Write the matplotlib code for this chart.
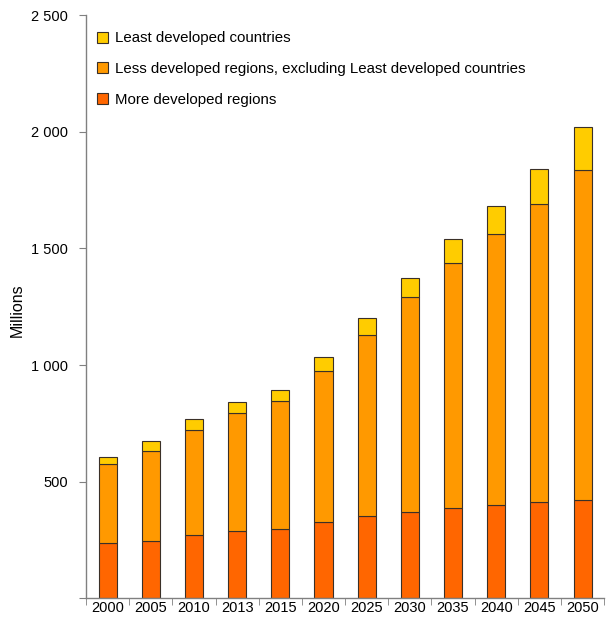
import matplotlib
matplotlib.use("Agg")
import matplotlib.pyplot as plt
import numpy as np
from matplotlib.ticker import FuncFormatter, FixedLocator

plt.rcParams['font.family'] = ['Liberation Sans', 'DejaVu Sans']

years = ["2000", "2005", "2010", "2013", "2015", "2020", "2025", "2030", "2035", "2040", "2045", "2050"]
more_developed = [235, 246, 272, 287, 299, 327, 351, 372, 389, 401, 412, 421]
less_excl_ldc = [340, 387, 450, 507, 546, 648, 778, 918, 1050, 1160, 1279, 1416]
least_developed = [32, 40, 45, 47, 48, 60, 72, 85, 103, 122, 151, 184]

series_names = ["More developed regions",
                "Less developed regions, excluding Least developed countries",
                "Least developed countries"]
colors = ["#FF6600", "#FF9900", "#FFCC00"]

fig = plt.figure(figsize=(6.11, 6.28), dpi=100)
ax = fig.add_axes([0.1408, 0.0473, 0.848, 0.9287])

x = np.arange(len(years))
w = 0.42
edge = "#3a3028"
b1 = ax.bar(x, more_developed, w, color=colors[0], edgecolor=edge, linewidth=0.8, label=series_names[0])
b2 = ax.bar(x, less_excl_ldc, w, bottom=more_developed, color=colors[1], edgecolor=edge, linewidth=0.8, label=series_names[1])
bottom3 = np.array(more_developed) + np.array(less_excl_ldc)
b3 = ax.bar(x, least_developed, w, bottom=bottom3, color=colors[2], edgecolor=edge, linewidth=0.8, label=series_names[2])

ax.set_xlim(-0.5, len(years) - 0.5)
ax.set_ylim(0, 2500)
ax.set_yticks([0, 500, 1000, 1500, 2000, 2500])
ax.yaxis.set_major_formatter(FuncFormatter(lambda v, p: "" if v == 0 else f"{int(v):,}".replace(",", " ")))

ax.set_xticks(x)
ax.set_xticklabels(years)
ax.xaxis.set_minor_locator(FixedLocator(np.arange(-0.5, len(years), 1.0)))
ax.tick_params(axis='x', which='major', length=0, labelsize=10.5, pad=2)
ax.tick_params(axis='x', which='minor', length=5, color='#808080', direction='out')
ax.tick_params(axis='y', which='major', length=5, color='#808080', labelsize=10.5, pad=8)

for s in ['top', 'right']:
    ax.spines[s].set_visible(False)
for s in ['left', 'bottom']:
    ax.spines[s].set_color('#808080')
    ax.spines[s].set_linewidth(1.0)

ax.set_ylabel("Millions", fontsize=11.5)
ax.yaxis.set_label_coords(-0.118, 0.494)

handles = [b3, b2, b1]
labels = [series_names[2], series_names[1], series_names[0]]
leg = ax.legend(handles, labels, loc='upper left', bbox_to_anchor=(0.0, 0.99), frameon=False,
                fontsize=10.8, labelspacing=1.12, handlelength=0.75, handleheight=0.75,
                handletextpad=0.45, borderaxespad=0.3)

fig.savefig("out.png", dpi=100)
